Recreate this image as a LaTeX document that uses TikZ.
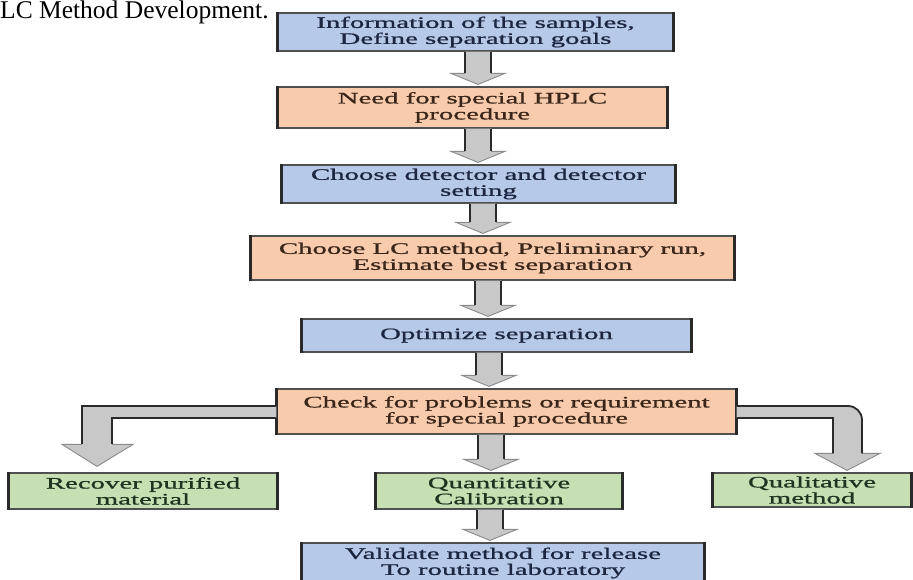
\documentclass[tikz,border=0pt]{standalone}
\usepackage{fontspec}
\setmainfont{Liberation Serif}
\newfontfamily\boxfont[FakeStretch=1.8,FakeBold=1.0]{Liberation Serif}
\usetikzlibrary{calc}
\definecolor{bluefill}{HTML}{B7C9E8}
\definecolor{orangefill}{HTML}{F8CBAD}
\definecolor{greenfill}{HTML}{C6E0B4}
\definecolor{bordergray}{HTML}{505050}
\definecolor{darkedge}{HTML}{2A2A2A}
\definecolor{arrowgray}{HTML}{C8C8C8}
\definecolor{headgray}{HTML}{8A8A8A}
\definecolor{bluetext}{HTML}{1C2640}
\definecolor{orangetext}{HTML}{3A2618}
\definecolor{greentext}{HTML}{1E3320}
\tikzset{
  flowbox/.style={rectangle, draw=bordergray, line width=1.2pt, inner sep=0pt, align=center,
    font={\boxfont\fontsize{16}{16}\selectfont},
    append after command={(\tikzlastnode.north west) edge[line width=2.6pt, draw=darkedge] (\tikzlastnode.south west)
      (\tikzlastnode.north east) edge[line width=2.6pt, draw=darkedge] (\tikzlastnode.south east)}},
  bluebox/.style={flowbox, fill=bluefill, text=bluetext},
  orangebox/.style={flowbox, fill=orangefill, text=orangetext},
  greenbox/.style={flowbox, fill=greenfill, text=greentext},
  shaftline/.style={draw=darkedge, line width=1.8pt},
  headline/.style={draw=headgray, line width=0.9pt, line join=miter},
}
% vertical block arrow: from node, to node, x centre
\newcommand\vblock[3]{%
  \fill[arrowgray] let \p1=(#1.south), \p2=(#2.north) in
    ({#3pt-13pt},\y1) -- ({#3pt-13pt},\y2+13pt) -- ({#3pt-27pt},\y2+13pt) -- ({#3pt},\y2+2pt)
    -- ({#3pt+27pt},\y2+13pt) -- ({#3pt+13pt},\y2+13pt) -- ({#3pt+13pt},\y1) -- cycle;
  \draw[headline] let \p1=(#1.south), \p2=(#2.north) in
    ({#3pt-13pt},\y2+13pt) -- ({#3pt-27pt},\y2+13pt) -- ({#3pt},\y2+2pt)
    -- ({#3pt+27pt},\y2+13pt) -- ({#3pt+13pt},\y2+13pt);
  \draw[shaftline] let \p1=(#1.south), \p2=(#2.north) in
    ({#3pt-13pt},\y1) -- ({#3pt-13pt},\y2+13pt)
    ({#3pt+13pt},\y1) -- ({#3pt+13pt},\y2+13pt);
}
\begin{document}
\begin{tikzpicture}[x=1pt,y=-1pt]
\useasboundingbox (0,0) rectangle (913,580);
\clip (0,0) rectangle (913,580);
\fill[white] (0,0) rectangle (913,580);

\node[anchor=base west, inner sep=0pt, font=\fontsize{25.5}{30}\selectfont] (title) at (0,19) {LC Method Development.};

\node[bluebox,   minimum width=395pt, minimum height=38pt] (b1) at (475.5,32)  {Information of the samples,\\Define separation goals};
\node[orangebox, minimum width=389pt, minimum height=41pt] (b2) at (472.5,107.5) {Need for special HPLC\\procedure};
\node[bluebox,   minimum width=393pt, minimum height=38pt] (b3) at (478.5,184) {Choose detector and detector\\setting};
\node[orangebox, minimum width=483pt, minimum height=44pt] (b4) at (492.5,258) {Choose LC method, Preliminary run,\\Estimate best separation};
\node[bluebox,   minimum width=389pt, minimum height=33pt] (b5) at (496.5,335.5) {Optimize separation};
\node[orangebox, minimum width=459pt, minimum height=45pt] (b6) at (506.5,411.5) {Check for problems or requirement\\for special procedure};
\node[greenbox,  minimum width=268pt, minimum height=36pt] (r)  at (143,491) {Recover purified\\material};
\node[greenbox,  minimum width=246pt, minimum height=36pt] (q)  at (499,491) {Quantitative\\Calibration};
\node[greenbox,  minimum width=198pt, minimum height=34pt] (ql) at (812,490) {Qualitative\\method};
\node[bluebox,   minimum width=402pt, minimum height=40pt] (v) at (503,563) {Validate method for release\\To routine laboratory};

\vblock{b1}{b2}{478}
\vblock{b2}{b3}{478}
\vblock{b3}{b4}{483}
\vblock{b4}{b5}{488}
\vblock{b5}{b6}{489}
\vblock{b6}{q}{491}
\vblock{q}{v}{490}

% left bent arrow
\fill[arrowgray] let \p1=(b6.west), \p2=(r.north) in
  (\x1,\y1+5.5pt) -- (82pt,\y1+5.5pt) -- (82pt,\y2+28pt) -- (62pt,\y2+28pt) -- (97pt,\y2+6pt)
  -- (133pt,\y2+28pt) -- (112pt,\y2+28pt) -- (112pt,\y1-6.5pt) -- (\x1,\y1-6.5pt) -- cycle;
\draw[headline] let \p1=(b6.west), \p2=(r.north) in
  (82pt,\y2+28pt) -- (62pt,\y2+28pt) -- (97pt,\y2+6pt) -- (133pt,\y2+28pt) -- (112pt,\y2+28pt);
\draw[shaftline] let \p1=(b6.west), \p2=(r.north) in
  (\x1,\y1+5.5pt) -- (82pt,\y1+5.5pt) -- (82pt,\y2+28pt)
  (112pt,\y2+28pt) -- (112pt,\y1-6.5pt) -- (\x1,\y1-6.5pt);

% right bent arrow
\fill[arrowgray] let \p1=(b6.east), \p2=(ql.north) in
  (\x1,\y1+5.5pt) -- (848pt,\y1+5.5pt) to[out=0,in=90] (862pt,\y1-8.5pt) -- (862pt,\y2+19pt)
  -- (880pt,\y2+19pt) -- (847pt,\y2+2pt) -- (815pt,\y2+19pt) -- (833pt,\y2+19pt)
  -- (833pt,\y1-6.5pt) -- (\x1,\y1-6.5pt) -- cycle;
\draw[headline] let \p1=(b6.east), \p2=(ql.north) in
  (862pt,\y2+19pt) -- (880pt,\y2+19pt) -- (847pt,\y2+2pt) -- (815pt,\y2+19pt) -- (833pt,\y2+19pt);
\draw[shaftline] let \p1=(b6.east), \p2=(ql.north) in
  (\x1,\y1+5.5pt) -- (848pt,\y1+5.5pt) to[out=0,in=90] (862pt,\y1-8.5pt) -- (862pt,\y2+19pt)
  (833pt,\y2+19pt) -- (833pt,\y1-6.5pt) -- (\x1,\y1-6.5pt);
\end{tikzpicture}
\end{document}
